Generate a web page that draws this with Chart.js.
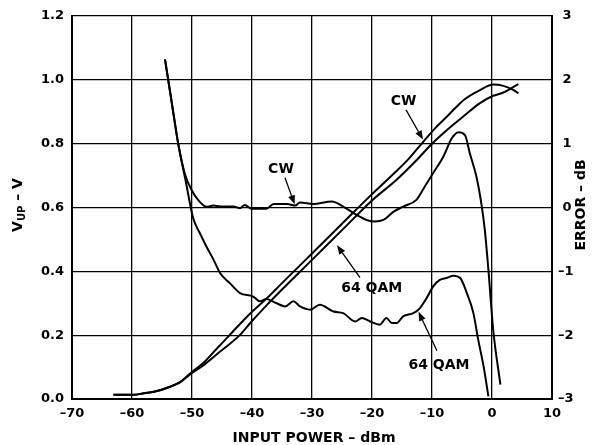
<!DOCTYPE html>
<html><head><meta charset="utf-8">
<script src="https://cdn.jsdelivr.net/npm/chart.js@4.4.1/dist/chart.umd.min.js"></script>
<style>html,body{margin:0;padding:0;background:#fff;}#wrap{width:598px;height:445px;}</style>
</head><body><div id="wrap"><canvas id="c" width="598" height="445"></canvas></div>
<script>
// ---- axis ranges ----
const xMin = -70, xMax = 10, xStep = 10;
const vMin = 0, vMax = 1.2, vStep = 0.2;
const eMin = -3, eMax = 3, eStep = 1;

// ---- V_UP (left axis, V) ----
const cwVupX = [-63.1,-59.8,-58,-56,-54,-52,-50.3,-48,-46,-43.7,-40.3,-37.5,-35,-30,-25,-20,-17,-14,-11.5,-9.5,-7.5,-6,-4.5,-2,0.2,1.9,3.6,4.4];
const cwVupY = [0.013,0.013,0.018,0.024,0.036,0.053,0.080,0.115,0.155,0.201,0.268,0.316,0.363,0.456,0.549,0.642,0.695,0.75,0.805,0.848,0.885,0.914,0.94,0.968,0.985,0.981,0.968,0.958];
const qamVupX = [-63.1,-59.8,-58,-56,-54,-52,-50.3,-48,-46,-42,-40.3,-37.5,-35,-30,-25,-20,-15.9,-13,-10,-7.5,-4.8,-2,0.2,1.6,3,4.4];
const qamVupY = [0.013,0.013,0.018,0.024,0.036,0.052,0.078,0.107,0.138,0.201,0.238,0.295,0.343,0.436,0.529,0.622,0.687,0.74,0.80,0.843,0.885,0.927,0.950,0.958,0.971,0.987];

// ---- ERROR (right axis, dB) ----
const cwErrX = [-54.5,-53.4,-52.3,-51.2,-50.05,-48.95,-47.55,-46.4,-45.3,-43.1,-42,-41.2,-40.1,-37.6,-36.4,-34.2,-32.8,-32,-29.8,-26.7,-24.8,-22.6,-20.9,-19.5,-18.1,-16.4,-14.8,-12.6,-11.2,-9.8,-8.1,-6.7,-5.6,-4.5,-3.7,-2.6,-1.7,-1.2,-0.6,0.2,1.4];
const cwErrY = [2.32,1.66,1.0,0.53,0.27,0.115,0.01,0.03,0.015,0.015,-0.01,0.04,-0.02,-0.02,0.055,0.055,0.03,0.08,0.055,0.095,0.015,-0.115,-0.195,-0.22,-0.195,-0.065,0.015,0.12,0.33,0.54,0.80,1.085,1.18,1.135,0.85,0.485,0.015,-0.35,-0.975,-1.915,-2.775];
const qamErrX = [-54.5,-53.4,-52.3,-51.05,-49.8,-48.7,-47.6,-46.4,-45.3,-43.7,-42,-39.8,-38.7,-37.6,-35.9,-34.5,-33.1,-32,-30.3,-28.7,-26.4,-24.8,-22.8,-21.7,-20.3,-18.7,-17.6,-16.7,-15.9,-14.8,-13.1,-12,-10.9,-9.8,-8.7,-7.6,-6.4,-5.3,-4.2,-3.1,-2.3,-1.4,-0.6];
const qamErrY = [2.32,1.66,1.0,0.415,-0.17,-0.40,-0.61,-0.82,-1.03,-1.185,-1.34,-1.395,-1.47,-1.435,-1.50,-1.55,-1.47,-1.55,-1.60,-1.525,-1.63,-1.655,-1.785,-1.73,-1.785,-1.835,-1.73,-1.81,-1.81,-1.705,-1.655,-1.575,-1.42,-1.235,-1.135,-1.105,-1.07,-1.105,-1.34,-1.655,-2.07,-2.49,-2.96];

// ---- callout labels (anchored in data coords: x dBm, y in V of left axis) ----
const callouts = [
  {text:'CW',     tx:-35.17, ty:0.7195, ax:-34.5, ay:0.693, hx:-32.9, hy:0.610},
  {text:'CW',     tx:-14.75, ty:0.934,  ax:-14.33, ay:0.906, hx:-11.5, hy:0.813},
  {text:'64 QAM', tx:-20.05, ty:0.3475, ax:-22.0, ay:0.38,  hx:-25.83, hy:0.4815},
  {text:'64 QAM', tx:-8.83,  ty:0.104,  ax:-9.17, ay:0.151, hx:-12.25, hy:0.273}
];

const FONT = '"DejaVu Sans", sans-serif';
const zip = (xs, ys) => xs.map((x, i) => ({x, y: ys[i]}));
const dash = s => String(s).replace('-', '\u2013');

function lineDs(data, axis) {
  return {data, yAxisID: axis, borderColor:'#000', borderWidth:2, pointRadius:0,
          fill:false, cubicInterpolationMode:'monotone', borderCapStyle:'butt', borderJoinStyle:'round'};
}

const overlay = {
  id: 'overlay',
  afterDatasetsDraw(chart) {
    const ctx = chart.ctx, x = chart.scales.x, y = chart.scales.y;
    ctx.save();
    ctx.fillStyle = '#000'; ctx.strokeStyle = '#000';
    ctx.font = 'bold 14px ' + FONT;
    ctx.textAlign = 'center'; ctx.textBaseline = 'middle';
    for (const a of callouts) {
      ctx.fillText(a.text, x.getPixelForValue(a.tx), y.getPixelForValue(a.ty));
      const x1 = x.getPixelForValue(a.ax), y1 = y.getPixelForValue(a.ay);
      const x2 = x.getPixelForValue(a.hx), y2 = y.getPixelForValue(a.hy);
      const ang = Math.atan2(y2 - y1, x2 - x1), L = 9, W = 3.5;
      const bx = x2 - L * Math.cos(ang), by = y2 - L * Math.sin(ang);
      ctx.lineWidth = 1.3;
      ctx.beginPath(); ctx.moveTo(x1, y1); ctx.lineTo(bx, by); ctx.stroke();
      ctx.beginPath(); ctx.moveTo(x2, y2);
      ctx.lineTo(bx + W * Math.sin(ang), by - W * Math.cos(ang));
      ctx.lineTo(bx - W * Math.sin(ang), by + W * Math.cos(ang));
      ctx.closePath(); ctx.fill();
    }
    // bottom title
    ctx.textBaseline = 'alphabetic';
    ctx.font = 'bold 14px ' + FONT;
    ctx.fillText('INPUT POWER \u2013 dBm', (chart.chartArea.left + chart.chartArea.right) / 2 + 2, 442);
    // left title with subscript
    ctx.save();
    ctx.translate(22, 205); ctx.rotate(-Math.PI / 2);
    ctx.textAlign = 'left';
    const big = 'bold 14px ' + FONT, small = 'bold 10px ' + FONT;
    ctx.font = big; const w1 = ctx.measureText('V').width, w3 = ctx.measureText(' \u2013 V').width;
    ctx.font = small; const w2 = ctx.measureText('UP').width;
    let sx = -(w1 + w2 + w3) / 2;
    ctx.font = big; ctx.fillText('V', sx, 0);
    ctx.font = small; ctx.fillText('UP', sx + w1, 3);
    ctx.font = big; ctx.fillText(' \u2013 V', sx + w1 + w2, 0);
    ctx.restore();
    // right title
    ctx.save();
    ctx.translate(585, 205); ctx.rotate(-Math.PI / 2);
    ctx.textAlign = 'center'; ctx.font = big;
    ctx.fillText('ERROR \u2013 dB', 0, 0);
    ctx.restore();
    ctx.restore();
  }
};

new Chart(document.getElementById('c'), {
  type: 'line',
  data: { datasets: [
    lineDs(zip(cwVupX, cwVupY), 'y'),
    lineDs(zip(qamVupX, qamVupY), 'y'),
    lineDs(zip(cwErrX, cwErrY), 'y2'),
    lineDs(zip(qamErrX, qamErrY), 'y2')
  ]},
  options: {
    responsive: false, animation: false, devicePixelRatio: 1,
    layout: { padding: { top: 16, left: 0, right: 0, bottom: 0 } },
    plugins: { legend: { display: false }, tooltip: { enabled: false } },
    scales: {
      x: {
        type: 'linear', min: xMin, max: xMax,
        ticks: { stepSize: xStep, padding: 7, color: '#000', font: { family: FONT, size: 13, weight: 'bold' }, callback: v => dash(v) },
        grid: { color: '#000', lineWidth: 1.3, drawTicks: false, tickLength: 0 },
        border: { display: true, color: '#000', width: 2 },
        afterFit: s => { s.height = 46; }
      },
      y: {
        position: 'left', min: vMin, max: vMax,
        ticks: { stepSize: vStep, padding: 8, color: '#000', font: { family: FONT, size: 13, weight: 'bold' }, callback: v => Number(v).toFixed(1) },
        grid: { color: '#000', lineWidth: 1.3, drawTicks: false, tickLength: 0 },
        border: { display: true, color: '#000', width: 2 },
        afterFit: s => { s.width = 72; }
      },
      y2: {
        position: 'right', min: eMin, max: eMax,
        ticks: { stepSize: eStep, padding: 6, color: '#000', font: { family: FONT, size: 13, weight: 'bold' }, callback: v => v < 0 ? '\u2013' + (-v) : ' ' + v },
        grid: { display: false, drawTicks: false, tickLength: 0 },
        border: { display: true, color: '#000', width: 2 },
        afterFit: s => { s.width = 46; }
      }
    }
  },
  plugins: [overlay]
});
</script>
</body></html>
